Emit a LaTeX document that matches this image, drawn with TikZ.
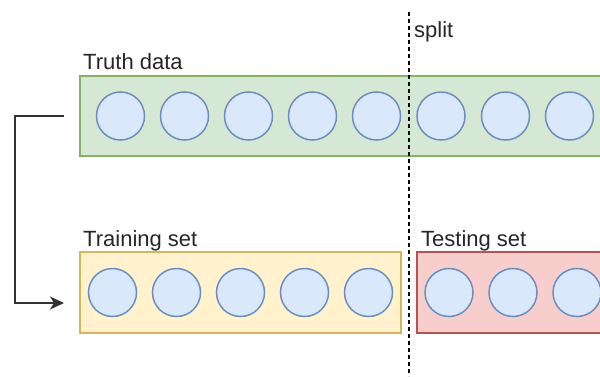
\documentclass[tikz,border=0pt]{standalone}
\usepackage{fontspec}
\setmainfont{Liberation Sans}
\usetikzlibrary{arrows.meta}
\definecolor{greenfill}{HTML}{D5E8D4}
\definecolor{greenline}{HTML}{82B366}
\definecolor{yellowfill}{HTML}{FFF2CC}
\definecolor{yellowline}{HTML}{D6B656}
\definecolor{redfill}{HTML}{F8CECC}
\definecolor{redline}{HTML}{B85450}
\definecolor{bluefill}{HTML}{DAE8FC}
\definecolor{blueline}{HTML}{6C8EBF}
\tikzset{
  sample/.style={circle, draw=blueline, fill=bluefill, line width=1.5pt,
    minimum size=48pt, inner sep=0pt},
  setbox/.style={line width=1.4pt},
  setlabel/.style={anchor=base west, inner sep=0pt,
    font=\fontsize{22}{26}\selectfont, text=black!85},
  flow/.style={line width=1.5pt, draw=black!80,
    -{Stealth[length=14pt,width=13pt,inset=4pt]}},
  splitline/.style={line width=2pt, dash pattern=on 4pt off 3pt}
}
\begin{document}
\begin{tikzpicture}[x=1pt,y=-1pt]
\useasboundingbox (0,0) rectangle (600,376);

% the full data set
\fill[greenfill] (80,76) rectangle (601,156);
\draw[setbox, draw=greenline] (601,76) -- (80,76) -- (80,156) -- (601,156);
\node[setlabel] (truth) at (83,69) {Truth data};
\foreach \i/\x in {1/120.5,2/184.5,3/248.5,4/312.5,5/376.5,6/441,7/505.5,8/569.5}
  \node[sample] (t\i) at (\x,116) {};

% training part
\filldraw[setbox, fill=yellowfill, draw=yellowline] (80,252) rectangle (401,333);
\node[setlabel] (trainlbl) at (83,246) {Training set};
\foreach \i/\x in {1/112.5,2/176.5,3/240.5,4/304.5,5/368.5}
  \node[sample] (r\i) at (\x,292.5) {};

% testing part
\fill[redfill] (417,252) rectangle (601,333);
\draw[setbox, draw=redline] (601,252) -- (417,252) -- (417,333) -- (601,333);
\node[setlabel] (testlbl) at (421,246) {Testing set};
\foreach \i/\x in {1/449,2/513,3/577}
  \node[sample] (s\i) at (\x,292.5) {};

% split marker
\coordinate (splittop) at (408.5,12);
\coordinate (splitbot) at (408.5,376);
\draw[splitline] (splittop) -- (splitbot);
\node[setlabel] (splitlbl) at (414,37) {split};

% flow from the data set to the training set
\coordinate (src) at (64,116);
\coordinate (dst) at (64,303);
\draw[flow] (src) -- (15,116) -- (15,303) -- (dst);
\end{tikzpicture}
\end{document}
